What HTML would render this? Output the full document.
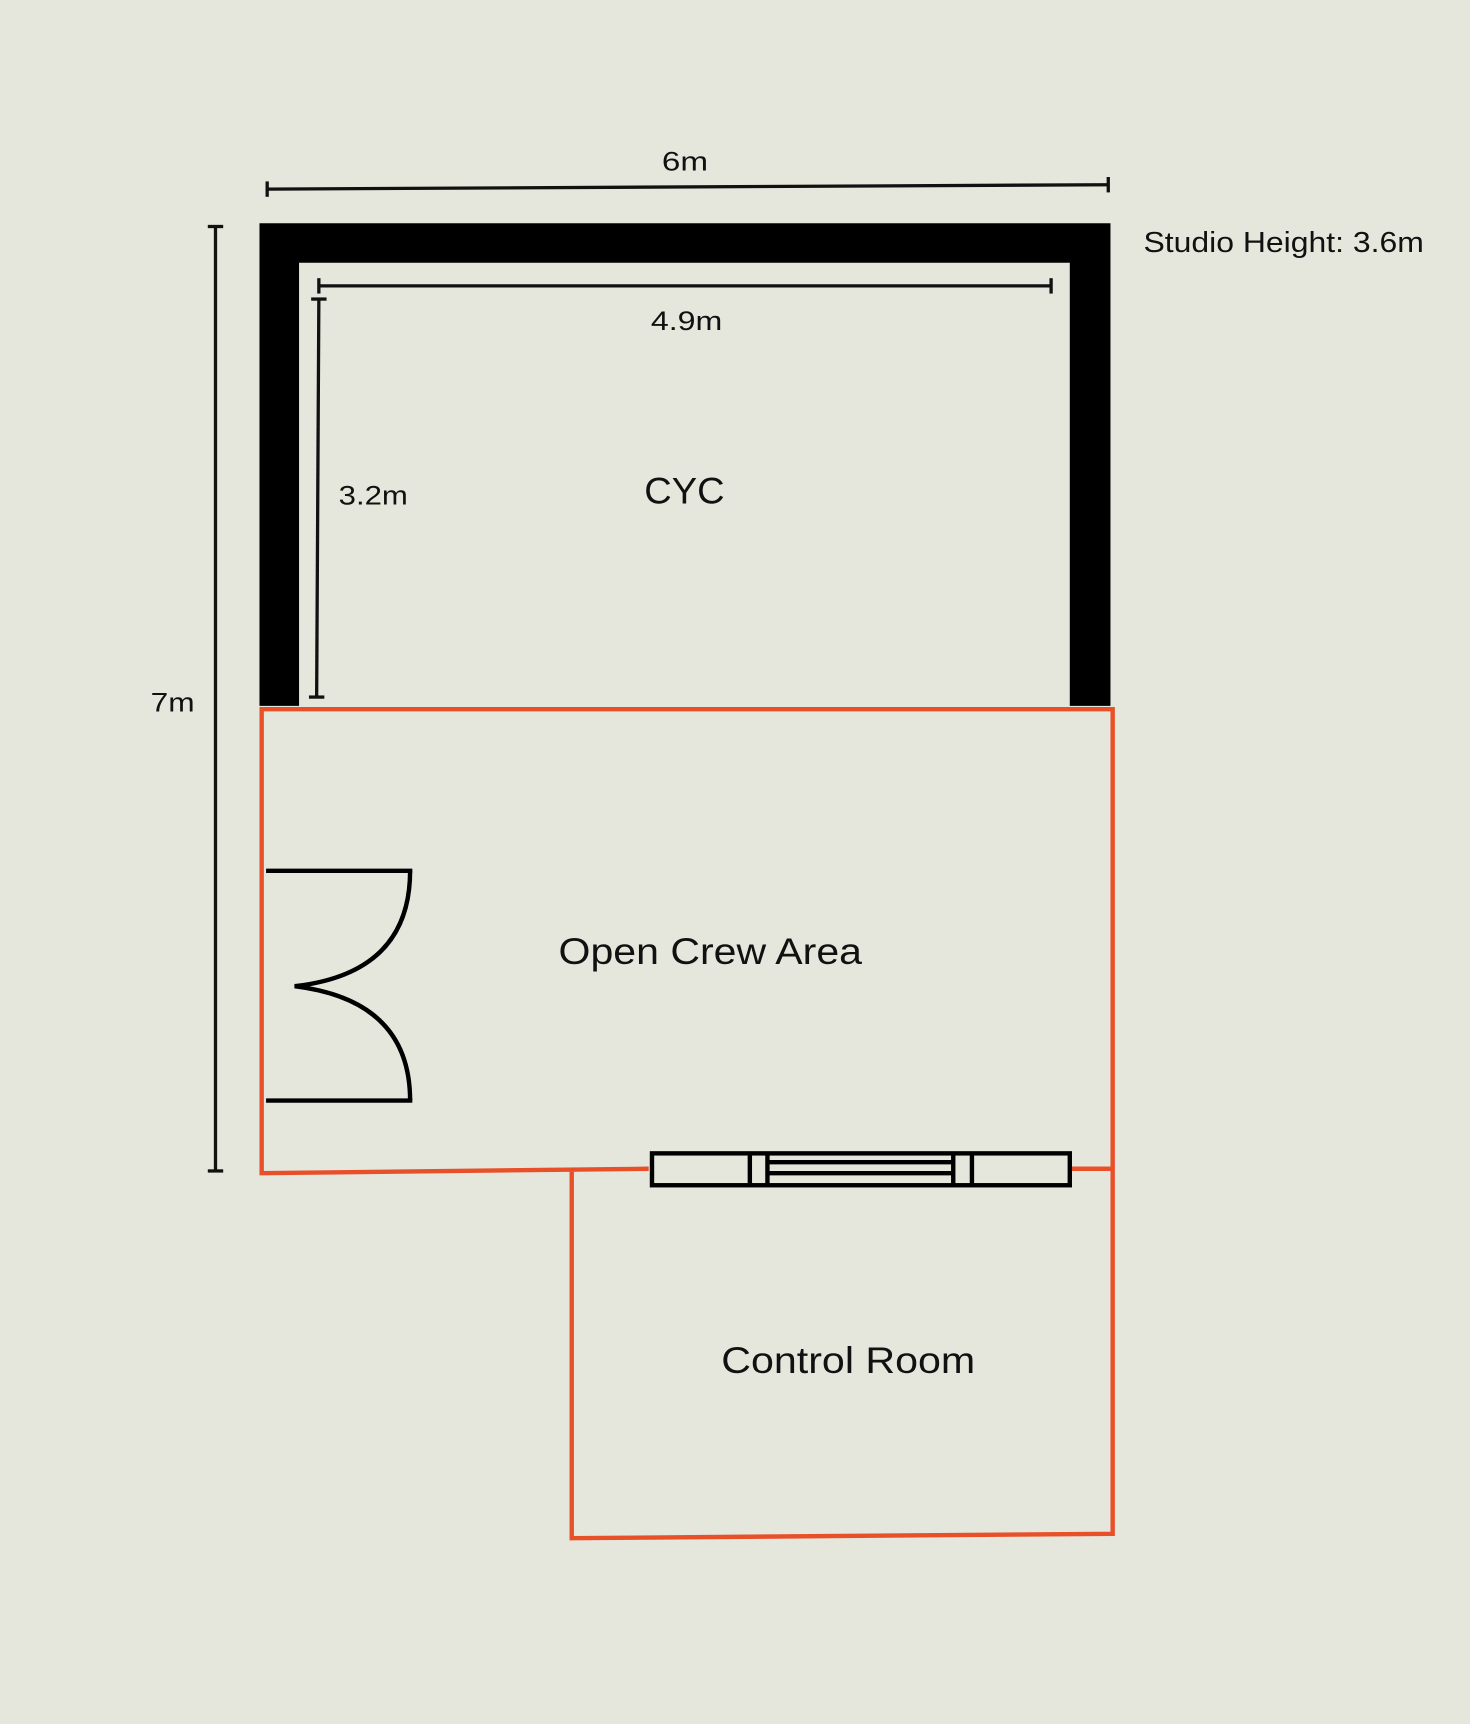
<!DOCTYPE html>
<html><head><meta charset="utf-8"><style>
html,body{margin:0;padding:0;background:#e6e7dc;}
svg{display:block;}
text{font-family:"Liberation Sans",sans-serif;fill:#111;}
</style></head><body>
<svg width="1470" height="1724" viewBox="0 0 1337 1568" xmlns="http://www.w3.org/2000/svg">
<rect width="1337" height="1568" fill="#e6e7dc"/>
<g stroke="#111" stroke-width="3" fill="none">
<line x1="243" y1="172" x2="1008" y2="168"/>
<line x1="243" y1="165" x2="243" y2="179"/>
<line x1="1008" y1="161" x2="1008" y2="175"/>
<line x1="290" y1="260" x2="956" y2="260"/>
<line x1="290" y1="253" x2="290" y2="267"/>
<line x1="956" y1="253" x2="956" y2="267"/>
<line x1="290" y1="272" x2="288" y2="634"/>
<line x1="283" y1="272" x2="297" y2="272"/>
<line x1="281" y1="634" x2="295" y2="634"/>
<line x1="196" y1="206" x2="196" y2="1065"/>
<line x1="189" y1="206" x2="203" y2="206"/>
<line x1="189" y1="1065" x2="203" y2="1065"/>
</g>
<text x="602" y="155" font-size="24" textLength="42" lengthAdjust="spacingAndGlyphs">6m</text>
<text x="592" y="300" font-size="24" textLength="65" lengthAdjust="spacingAndGlyphs">4.9m</text>
<text x="308" y="459" font-size="24" textLength="63" lengthAdjust="spacingAndGlyphs">3.2m</text>
<text x="137" y="647" font-size="24" textLength="40" lengthAdjust="spacingAndGlyphs">7m</text>
<text x="1040" y="229" font-size="26" textLength="255" lengthAdjust="spacingAndGlyphs">Studio Height: 3.6m</text>
<path d="M236 203 H1010 V642 H973 V239 H272 V642 H236 Z" fill="#000"/>
<text x="586" y="458" font-size="34" textLength="73" lengthAdjust="spacingAndGlyphs">CYC</text>
<g stroke="#e8502a" stroke-width="4" fill="none">
<polyline points="590,1063 238,1067 238,645 1012,645 1012,1395 520,1399 520,1065"/>
<line x1="973" y1="1063" x2="1012" y2="1063"/>
</g>
<g stroke="#000" stroke-width="4" fill="none">
<line x1="242" y1="792" x2="375" y2="792"/>
<line x1="242" y1="1001" x2="375" y2="1001"/>
<path d="M373 792 Q373 885 268 897 Q373 910 373 1001"/>
</g>
<g stroke="#000" stroke-width="4" fill="none">
<rect x="593" y="1049" width="380" height="29"/>
<line x1="682" y1="1049" x2="682" y2="1078"/>
<line x1="698" y1="1049" x2="698" y2="1078"/>
<line x1="867" y1="1049" x2="867" y2="1078"/>
<line x1="884" y1="1049" x2="884" y2="1078"/>
<line x1="698" y1="1057" x2="867" y2="1057"/>
<line x1="698" y1="1067" x2="867" y2="1067"/>
</g>
<text x="508" y="877" font-size="34" textLength="276" lengthAdjust="spacingAndGlyphs">Open Crew Area</text>
<text x="656" y="1249" font-size="34" textLength="231" lengthAdjust="spacingAndGlyphs">Control Room</text>
</svg>
</body></html>
